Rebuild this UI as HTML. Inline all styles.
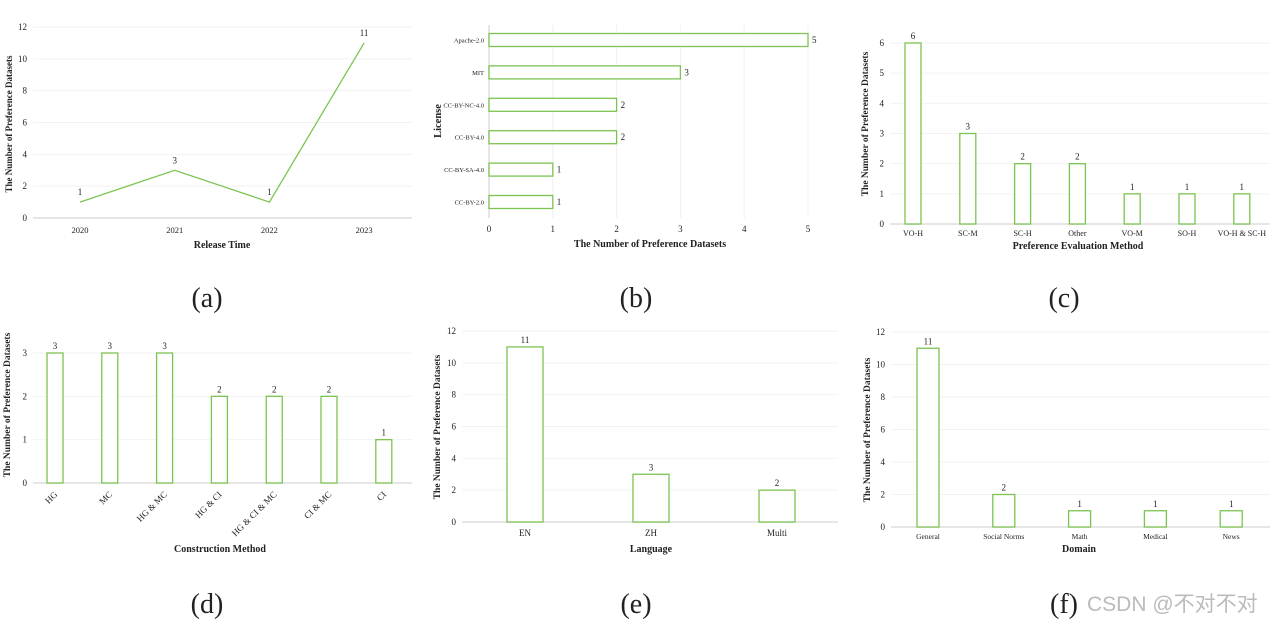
<!DOCTYPE html>
<html><head><meta charset="utf-8"><style>
html,body{margin:0;padding:0;background:#fff}
svg{display:block;font-family:"Liberation Serif",serif}
</style></head><body>
<svg id="c" width="1280" height="623" viewBox="0 0 1280 623"></svg>
<script>
// (a) release time
const relYears=["2020","2021","2022","2023"];
const relCounts=[1,3,1,11];
// (b) license
const licNames=["Apache-2.0","MIT","CC-BY-NC-4.0","CC-BY-4.0","CC-BY-SA-4.0","CC-BY-2.0"];
const licCounts=[5,3,2,2,1,1];
// (c) evaluation
const evalNames=["VO-H","SC-M","SC-H","Other","VO-M","SO-H","VO-H & SC-H"];
const evalCounts=[6,3,2,2,1,1,1];
// (d) construction
const conNames=["HG","MC","HG & MC","HG & CI","HG & CI & MC","CI & MC","CI"];
const conCounts=[3,3,3,2,2,2,1];
// (e) language
const langNames=["EN","ZH","Multi"];
const langCounts=[11,3,2];
// (f) domain
const domNames=["General","Social Norms","Math","Medical","News"];
const domCounts=[11,2,1,1,1];
const ticks12=[0,2,4,6,8,10,12];
const ticks6=[0,1,2,3,4,5,6];
const ticks3=[0,1,2,3];
const ticks5=[0,1,2,3,4,5];

const svg=document.getElementById('c');
const NS="http://www.w3.org/2000/svg";
const G="#7cc451";
function el(tag,attrs,parent,text){const e=document.createElementNS(NS,tag);for(const k in attrs)e.setAttribute(k,attrs[k]);if(text!==undefined)e.textContent=text;(parent||svg).appendChild(e);return e;}
function txt(parent,x,y,s,size,opts){opts=opts||{};const t=el('text',{x:x,y:y,'font-size':size,'text-anchor':opts.anchor||'middle',fill:opts.fill||'#222','font-weight':opts.bold?'bold':'normal'},parent,s);if(opts.rot)t.setAttribute('transform','rotate('+opts.rot+' '+x+' '+y+')');return t;}

function vchart(name,cfg){
  const g=el('g',{},svg);
  
  
  const yS=v=>cfg.y0-(v/cfg.max)*(cfg.y0-cfg.yTop);
  const n=cfg.cats.length;
  const xS=i=>cfg.xFirst+i*cfg.step;
  cfg.ticks.forEach(t=>{
    const ln=el('line',{x1:cfg.xL,x2:cfg.xR,y1:yS(t),y2:yS(t),stroke:t===0?'#ddd':'#f2f2f2','stroke-width':t===0?1.5:1},g);
    
    
    const tl=txt(g,cfg.xL-6,yS(t)+3,String(t),9,{anchor:'end'});
    
    
  });
  if(cfg.line){
    const pts=cfg.vals.map((v,i)=>xS(i)+','+yS(v)).join(' ');
    const pl=el('polyline',{points:pts,fill:'none',stroke:G,'stroke-width':1.3},g);
    
    
    cfg.vals.forEach((v,i)=>{const t=txt(g,xS(i),yS(v)-7,String(v),9,{fill:'#223'});
      
      });
  } else {
    cfg.vals.forEach((v,i)=>{
      const r=el('rect',{x:xS(i)-cfg.bw/2,y:yS(v),width:cfg.bw,height:cfg.y0-yS(v),fill:'#fff',stroke:G,'stroke-width':1.3},g);
      
      
      const t=txt(g,xS(i),yS(v)-4,String(v),9);
      
      
    });
  }
  cfg.cats.forEach((c,i)=>{
    let t;
    if(cfg.rotLabels) t=txt(g,xS(i)+3,cfg.y0+12,c,9,{anchor:'end',rot:-45});
    else t=txt(g,xS(i),cfg.labY,c,cfg.catSize||8.5);
    
    
  });
  const xt=txt(g,cfg.xtX,cfg.xtY,cfg.xTitle,10,{bold:true});
  
  
  const yt=txt(g,cfg.ytX,cfg.ytY,'The Number of Preference Datasets',cfg.ytSize||9.5,{bold:true,rot:-90});
  
  
}

vchart('chart-release-time',{cats:relYears,vals:relCounts,line:true,max:12,ticks:ticks12,y0:218,yTop:27,xL:33,xR:412,xFirst:80,step:94.7,labY:233,xTitle:'Release Time',xtX:222,xtY:248,ytX:12,ytY:124,ytSize:9});
vchart('chart-evaluation-method',{cats:evalCounts.map((_,i)=>evalNames[i]),vals:evalCounts,max:6,ticks:ticks6,y0:224,yTop:43,xL:890,xR:1270,xFirst:913,step:54.8,bw:16,labY:236,catSize:8,xTitle:'Preference  Evaluation Method',xtX:1078,xtY:249,ytX:868,ytY:124});
vchart('chart-construction-method',{cats:conNames,vals:conCounts,max:3,ticks:ticks3,y0:483,yTop:353,xL:33,xR:412,xFirst:55,step:54.8,bw:16,rotLabels:true,xTitle:'Construction Method',xtX:220,xtY:552,ytX:10,ytY:405});
vchart('chart-language',{cats:langNames,vals:langCounts,max:12,ticks:ticks12,y0:522,yTop:331,xL:462,xR:838,xFirst:525,step:126,bw:36,labY:536,catSize:9,xTitle:'Language',xtX:651,xtY:552,ytX:440,ytY:427});
vchart('chart-domain',{cats:domNames,vals:domCounts,max:12,ticks:ticks12,y0:527,yTop:332,xL:891,xR:1270,xFirst:928,step:75.8,bw:22,labY:539,catSize:7.5,xTitle:'Domain',xtX:1079,xtY:552,ytX:870,ytY:430});

// (b) horizontal bar
(function(){
  const g=el('g',{},svg);
  
  
  const x0=489,x5=808,max=5;
  const xS=v=>x0+v/max*(x5-x0);
  const yFirst=40,step=32.4,bh=13;
  ticks5.forEach(t=>{
    const ln=el('line',{x1:xS(t),x2:xS(t),y1:25,y2:218,stroke:t===0?'#ddd':'#f0f0f0','stroke-width':t===0?1.5:1},g);
    
    
    const tl=txt(g,xS(t),232,String(t),9);
    
    
  });
  licCounts.forEach((v,i)=>{
    const y=yFirst+i*step;
    const r=el('rect',{x:x0,y:y-bh/2,width:xS(v)-x0,height:bh,fill:'#fff',stroke:G,'stroke-width':1.3},g);
    
    
    const t=txt(g,xS(v)+4,y+3,String(v),9,{anchor:'start'});
    
    
    const l=txt(g,484,y+2.5,licNames[i],6.5,{anchor:'end'});
    
    
  });
  const xt=txt(g,650,247,'The Number of Preference Datasets',10,{bold:true});
  
  
  const yt=txt(g,441,121,'License',10.5,{bold:true,rot:-90});
  
  
})();

// captions
const caps=[["(a)",207,307],["(b)",636,307],["(c)",1064,307],["(d)",207,613],["(e)",636,613],["(f)",1064,613]];
caps.forEach(c=>{const t=txt(svg,c[1],c[2],c[0],28);
  
  });
const wm=el('text',{x:1087,y:611,'font-size':21,fill:'#bbb','font-family':'"Liberation Sans","Noto Sans CJK SC",sans-serif'},svg,'CSDN @不对不对');


</script>
</body></html>
